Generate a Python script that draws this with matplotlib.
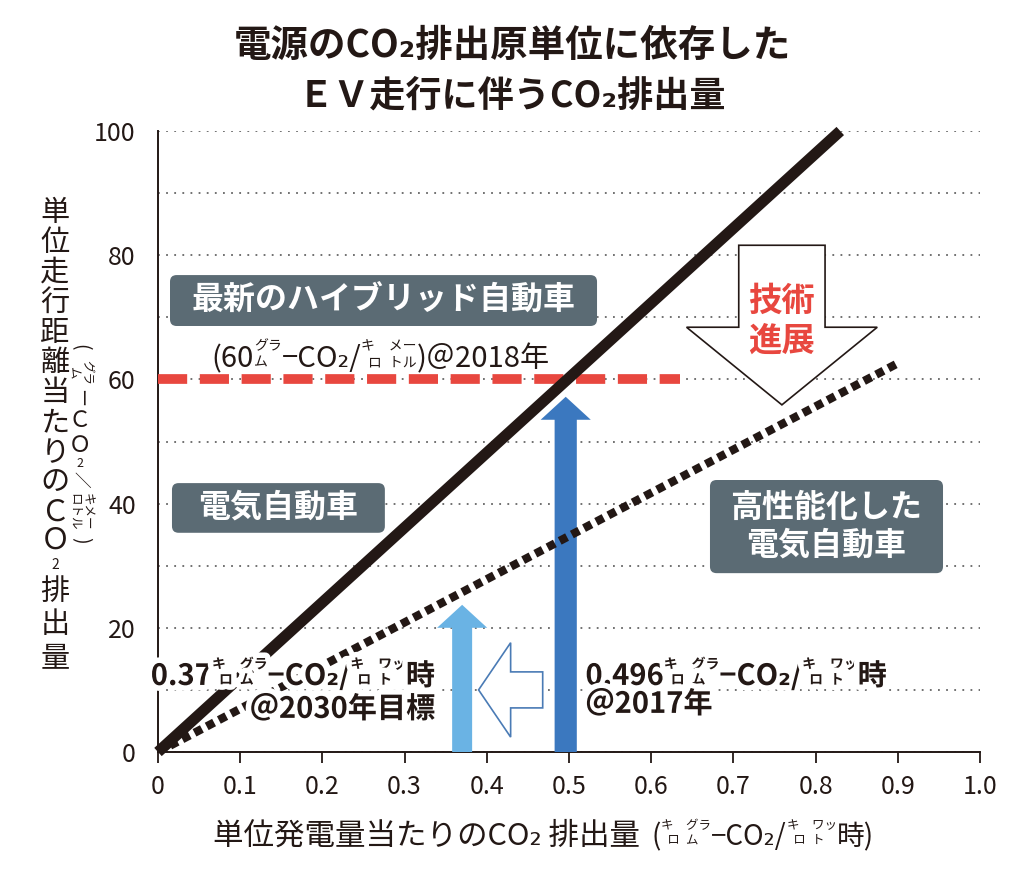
import matplotlib.pyplot as plt
import matplotlib.patheffects as pe
from matplotlib.patches import FancyArrow, FancyBboxPatch

plt.rcParams['font.family'] = ['Noto Sans CJK JP', 'DejaVu Sans']

INK = '#231815'
SLATE = '#5b6b74'
RED = '#e8473f'

# values
ev_x = [0, 0.83]            # 電気自動車 (solid line)
ev_y = [0, 100]
ev_new_x = [0, 0.9]         # 高性能化した電気自動車 (dotted line)
ev_new_y = [0, 62.6]
hybrid_x = [0, 0.635]       # 最新のハイブリッド 60g/km
hybrid_y = [60, 60]
x_2017, y_2017 = 0.496, 57.2
x_2030, y_2030 = 0.37, 23.7
xticks = [0, 0.1, 0.2, 0.3, 0.4, 0.5, 0.6, 0.7, 0.8, 0.9, 1.0]
xlabels = ['0', '0.1', '0.2', '0.3', '0.4', '0.5', '0.6', '0.7', '0.8', '0.9', '1.0']
yticks = [0, 20, 40, 60, 80, 100]

fig = plt.figure(figsize=(10.24, 8.75), dpi=100)
ax = fig.add_axes([158 / 1024, 123 / 875, 822 / 1024, 621 / 875])
ax.set_xlim(0, 1.0)
ax.set_ylim(0, 100)
ax.set_xticks(xticks, xlabels)
ax.set_yticks(yticks)
ax.set_yticks(range(10, 100, 20), minor=True)
ax.grid(axis='y', which='both', color='#666666', linestyle=(0, (1, 3.5)), linewidth=1.3)
ax.set_axisbelow(True)
for s in ['top', 'right']:
    ax.spines[s].set_visible(False)
for s in ['left', 'bottom']:
    ax.spines[s].set_linewidth(1.4)
    ax.spines[s].set_color(INK)
ax.tick_params(axis='x', direction='out', length=8, width=1.3, color=INK,
               labelsize=18, labelcolor=INK, pad=8)
ax.tick_params(axis='y', which='both', length=0, labelsize=18, labelcolor=INK, pad=16)

# lines
ax.plot(ev_x, ev_y, color=INK, lw=8, solid_capstyle='butt', zorder=4, clip_on=False)
ax.plot(ev_new_x, ev_new_y, color=INK, lw=6, linestyle=(0, (1.0, 0.65)),
        dash_capstyle='butt', zorder=4)
ax.plot(hybrid_x, hybrid_y, color=RED, lw=7, linestyle=(0, (3, 1.3)),
        dash_capstyle='butt', zorder=3)

# arrows
ax.add_patch(FancyArrow(x_2030, 0, 0, y_2030, width=0.0243, head_width=0.061,
                        head_length=3.7, length_includes_head=True,
                        color='#6ab3e4', lw=0, zorder=3))
ax.add_patch(FancyArrow(x_2017, 0, 0, y_2017, width=0.027, head_width=0.061,
                        head_length=3.7, length_includes_head=True,
                        color='#3b78bf', lw=0, zorder=3))
ax.add_patch(FancyArrow(0.468, 10, -0.078, 0, width=5.8, head_width=15.2,
                        head_length=0.039, length_includes_head=True,
                        fc='white', ec='#4a7bb5', lw=1.2, zorder=3))
ax.add_patch(FancyArrow(0.759, 81.6, 0, -25.7, width=0.105, head_width=0.232,
                        head_length=12.5, length_includes_head=True,
                        fc='white', ec=INK, lw=1.2, zorder=3))
ax.text(0.759, 69.4, '技術\n進展', color=RED, fontsize=24, fontweight='bold',
        ha='center', va='center', linespacing=1.25, zorder=5)


def box(x0, x1, y0, y1, label):
    ax.add_patch(FancyBboxPatch((x0, y0), x1 - x0, y1 - y0,
                                boxstyle='round,pad=0,rounding_size=0.008',
                                mutation_aspect=132, fc=SLATE, ec='none', zorder=2.5))
    ax.text((x0 + x1) / 2, (y0 + y1) / 2, label, color='white', fontsize=23,
            fontweight='bold', ha='center', va='center', linespacing=1.2, zorder=2.6)


box(0.0146, 0.5341, 68.6, 76.8, '最新のハイブリッド自動車')
box(0.017, 0.276, 35.3, 43.3, '電気自動車')
box(0.6715, 0.955, 28.8, 43.8, '高性能化した\n電気自動車')

# text with small stacked kana units
fig.canvas.draw()
rend = fig.canvas.get_renderer()


def text_w(s, size, weight):
    t = fig.text(0, 0, s, fontsize=size, fontweight=weight)
    w = t.get_window_extent(rend).width
    t.remove()
    return w


def rich(x, y, parts, size, ha='left', weight='bold', coords='data', halo=False, small=None):
    small = small or size * 0.5
    ws = []
    for p in parts:
        if isinstance(p, str):
            ws.append(text_w(p, size, weight))
        else:
            ws.append(max(text_w(p[0], small, weight), text_w(p[1], small, weight)))
    off = {'left': 0, 'center': -sum(ws) / 2, 'right': -sum(ws)}[ha]
    k = 72 / fig.dpi
    fx = [pe.withStroke(linewidth=8, foreground='white')] if halo else []
    kw = dict(xycoords=coords, textcoords='offset points', color=INK, fontweight=weight,
              ha='left', va='baseline', path_effects=fx, annotation_clip=False, zorder=6)
    for p, w in zip(parts, ws):
        if isinstance(p, str):
            ax.annotate(p, (x, y), xytext=(off * k, 0), fontsize=size, **kw)
        else:
            ax.annotate(p[0], (x, y), xytext=(off * k, size * 0.56), fontsize=small, **kw)
            ax.annotate(p[1], (x, y), xytext=(off * k, size * 0.03), fontsize=small, **kw)
        off += w


kg = ('キ\u3000グラ', '\u2002ロ\u2002ム')
kwh = ('キ\u3000ワッ', '\u2002ロ\u2002ト')
km = ('キ\u3000メー', '\u2002ロ\u2002トル')

rich(0.337, 10.8, ['0.37', kg, '−CO₂/', kwh, '時'], 21, ha='right', halo=True, small=10)
rich(0.337, 5.5, ['＠2030年目標'], 21, ha='right', halo=True)
rich(0.52, 10.8, ['0.496', kg, '−CO₂/', kwh, '時'], 21, halo=True, small=10)
rich(0.52, 6.3, ['＠2017年'], 21, halo=True)
rich(0.271, 62.0, ['(60', ('グラ', 'ム'), '−CO₂/', km, ')＠2018年'], 21,
     ha='center', weight='normal', small=10)

# x label
rich(213, 30, ['単位発電量当たりのCO₂ 排出量'], 22, weight='normal', coords='figure pixels')
rich(652, 30, ['(', kg, '−CO₂/', kwh, '時)'], 20, small=9, weight='normal',
     coords='figure pixels')

# title
fig.text(0.5, 1 - 45 / 875, '電源のCO₂排出原単位に依存した', ha='center', va='center',
         fontsize=27, fontweight='bold', color=INK)
fig.text(0.5, 1 - 96 / 875, 'ＥＶ走行に伴うCO₂排出量', ha='center', va='center',
         fontsize=26, fontweight='bold', color=INK)

# vertical y label
main_col = [('単', 213), ('位', 243), ('走', 273), ('行', 303), ('距', 333), ('離', 363),
            ('当', 393), ('た', 423), ('り', 453), ('の', 483), ('Ｃ', 513), ('Ｏ', 541),
            ('2', 565), ('排', 592), ('出', 625), ('量', 659)]
for ch, yp in main_col:
    fig.text(55 / 1024, 1 - yp / 875, ch, ha='center', va='center',
             fontsize=10 if ch == '2' else 21, color=INK)

unit_col = [('(', 347, 14, -90), ('グラ\nム', 372, 9, -90), ('ー', 398, 13, -90),
            ('Ｃ', 421, 16, 0), ('Ｏ', 445, 16, 0), ('2', 464, 9, 0), ('／', 479, 12, -90),
            ('キメー\nロトル', 512, 9, -90), (')', 540, 14, -90)]
for ch, yp, fs, rot in unit_col:
    fig.text(80 / 1024, 1 - yp / 875, ch, ha='center', va='center', fontsize=fs,
             rotation=rot, color=INK, linespacing=1.0)

fig.savefig('out.png', dpi=100)
